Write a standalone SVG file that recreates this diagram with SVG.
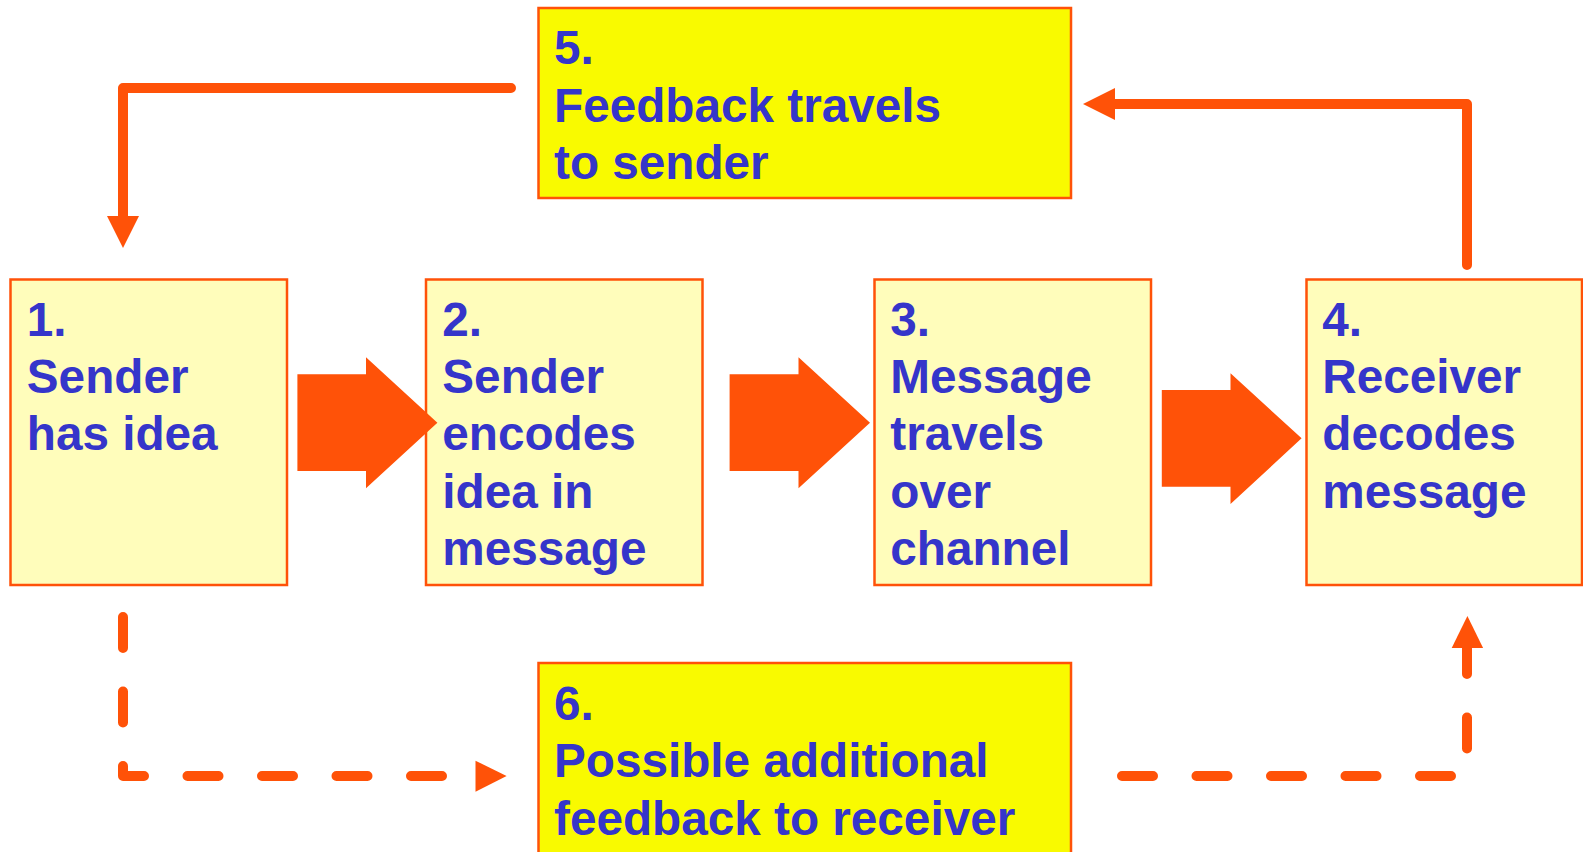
<svg xmlns="http://www.w3.org/2000/svg" width="1583" height="852" viewBox="0 0 1583 852">
<style>
.box{stroke:#FF5208;stroke-width:2.5}
.pale{fill:#FFFDBB}
.bright{fill:#F9FA00}
.t{font-family:"Liberation Sans",Arial,sans-serif;font-weight:bold;font-size:47.7px;fill:#3535CA}
.conn{fill:none;stroke:#FF5208;stroke-width:10;stroke-linecap:round;stroke-linejoin:round}
.dash{stroke-dasharray:31 43.5}
.head{fill:#FF5208}
</style>
<rect width="1583" height="852" fill="#FFFFFF"/>
<g id="node1">
  <rect class="box pale" x="10.5" y="279.5" width="276.5" height="305.5"/>
  <text class="t"><tspan x="26.8" y="335.7">1.</tspan><tspan x="26.8" y="392.7">Sender</tspan><tspan x="26.8" y="450.2">has idea</tspan></text>
</g>
<g id="node2">
  <rect class="box pale" x="426" y="279.5" width="276.5" height="305.5"/>
  <text class="t"><tspan x="442.3" y="335.7">2.</tspan><tspan x="442.3" y="392.7">Sender</tspan><tspan x="442.3" y="450.2">encodes</tspan><tspan x="442.3" y="507.7">idea in</tspan><tspan x="442.3" y="565.2">message</tspan></text>
</g>
<g id="node3">
  <rect class="box pale" x="874.5" y="279.5" width="276.5" height="305.5"/>
  <text class="t"><tspan x="890.3" y="335.7">3.</tspan><tspan x="890.3" y="392.7">Message</tspan><tspan x="890.3" y="450.2">travels</tspan><tspan x="890.3" y="507.7">over</tspan><tspan x="890.3" y="565.2">channel</tspan></text>
</g>
<g id="node4">
  <rect class="box pale" x="1306.5" y="279.5" width="275.5" height="305.5"/>
  <text class="t"><tspan x="1322.3" y="335.7">4.</tspan><tspan x="1322.3" y="392.7">Receiver</tspan><tspan x="1322.3" y="450.2">decodes</tspan><tspan x="1322.3" y="507.7">message</tspan></text>
</g>
<g id="node5">
  <rect class="box bright" x="538.5" y="8" width="532.5" height="190"/>
  <text class="t"><tspan x="554" y="64">5.</tspan><tspan x="554" y="121.5">Feedback travels</tspan><tspan x="554" y="178.5">to sender</tspan></text>
</g>
<g id="node6">
  <rect class="box bright" x="538.5" y="663" width="532.5" height="200"/>
  <text class="t"><tspan x="554" y="720">6.</tspan><tspan x="554" y="777.3">Possible additional</tspan><tspan x="554" y="835">feedback to receiver</tspan></text>
</g>
<g id="connectors">
  <path class="conn" d="M511,88 H123 V218"/>
  <polygon class="head" points="107,216 139,216 123,248"/>
  <path class="conn" d="M1467,265 V104 H1112"/>
  <polygon class="head" points="1115,88 1083,104 1115,120"/>
  <path class="conn dash" d="M123,617 V776 H442"/>
  <polygon class="head" points="475.5,760.7 506.6,776 475.5,791.7"/>
  <path class="conn dash" d="M1467,643 V776 H1122"/>
  <polygon class="head" points="1451.7,648 1467.4,616 1483.1,648"/>
  <polygon class="head" points="297.4,374.3 366,374.3 366,357.3 437.4,422.7 366,488.3 366,471 297.4,471"/>
  <polygon class="head" points="729.6,374.3 798.5,374.3 798.5,357.3 870,422.7 798.5,488.3 798.5,471 729.6,471"/>
  <polygon class="head" points="1161.8,390 1230.5,390 1230.5,373.3 1301.6,438.3 1230.5,504 1230.5,486.7 1161.8,486.7"/>
</g>
</svg>
